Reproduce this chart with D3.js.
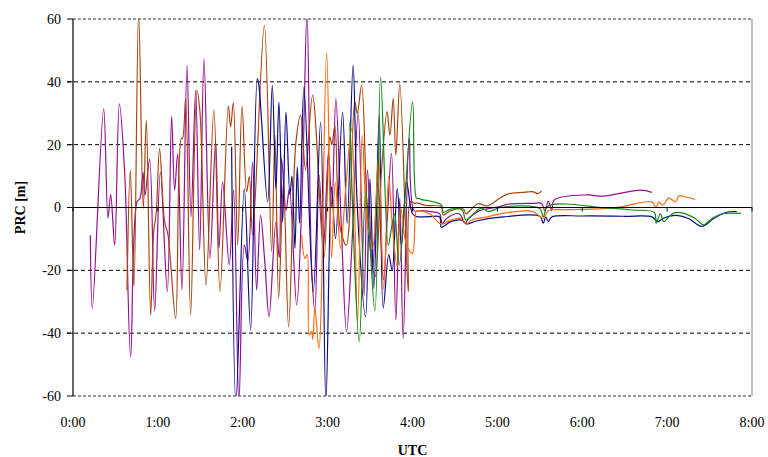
<!DOCTYPE html>
<html><head><meta charset="utf-8">
<script src="https://cdn.jsdelivr.net/npm/d3@7"></script>
<style>
body{margin:0;background:#fff;}
text{font-family:"Liberation Serif","Times New Roman",serif;}
</style></head>
<body><svg id="c" width="768" height="457"></svg>
<script>
// ---- data (time in hours UTC, PRC in metres) ----
const purpleT = [0.204,0.228,0.361,0.412,0.444,0.491,0.546,0.609,0.679,0.754,0.79,0.824,0.848,0.903,0.962,1.029,1.111,1.162,1.197,1.233,1.284,1.343,1.39,1.445,1.492,1.543,1.614,1.68,1.72,1.763,1.841,1.892,1.955,2.018,2.06,2.116,2.163,2.21,2.261,2.31,2.39,2.43,2.458,2.51,2.55,2.635,2.70,2.757,2.811,2.85,2.90,2.95,3.01,3.05,3.097,3.16,3.223,3.29,3.36,3.43,3.47,3.53,3.59,3.66,3.70,3.753,3.804,3.85,3.89,3.961,4.02,4.1,4.24,4.32,4.35,4.40,4.55,4.62,4.66,4.79,5.03,5.11,5.42,5.52,5.56,5.6,5.64,5.67,6.06,6.24,6.69,6.82];
const purpleV = [-8.8,-32,31.5,-3.3,4.2,-12,33,11,-47.5,1.8,2.9,11.3,3.9,15.3,-33,11.3,-26.8,29,5.5,17,-26.3,45.3,-3,37.3,-13.6,47.3,-16.2,20.9,-13,8.2,-18.3,5.5,-62,-12,-17,14.5,-26.3,-2.4,-17.8,-34.8,-4.6,-16,15.6,-1,6,-31,5,62,-19,-33,10.3,-13,17.7,0,34.7,-5,-39.6,-10,30.4,-28,12,-20,8,-23,-5,17.2,-35.8,3,-41.7,22,-1,-1,-1.4,-2,-5.1,-3.5,-2,-5,-3.5,-1,0.3,1,1.3,1.3,-1,2,-1,2.4,4,3.6,5.5,4.8];

const brownT = [0.636,0.675,0.718,0.773,0.828,0.864,0.915,0.95,0.98,1.02,1.08,1.12,1.209,1.276,1.29,1.327,1.386,1.46,1.496,1.567,1.66,1.732,1.83,1.857,1.889,1.94,1.991,2.046,2.077,2.116,2.254,2.34,2.38,2.423,2.48,2.54,2.627,2.682,2.74,2.823,2.957,3.027,3.05,3.086,3.145,3.22,3.32,3.35,3.40,3.478,3.56,3.63,3.70,3.734,3.773,3.804,3.851,3.949,3.977,4.028,4.05,4.15,4.34,4.36,4.45,4.6,4.63,4.77,4.88,5.03,5.11,5.3,5.42,5.48,5.52];
const brownV = [-26.3,11.9,-25,62,-0.3,27.8,-34.3,-8,-2,18.8,-4.6,-8.8,-35.3,22,22,34.7,-34.3,37.3,30.4,-24.7,31,-26.8,32.3,25.7,33.4,-12,32.3,5,9.8,-8.8,58,-14,23,-29,8,-38,20.9,29.4,12,35.7,-16,22.5,20,26,-6,-12,33.7,30,39,-6.7,-22,10,30.5,23,34.7,16.7,39.5,-26.8,1.8,1.3,1.5,0.7,0.2,-2.4,-1,-0.5,-2,1.2,0.5,3,4.2,4.8,5,4.4,5.3];

const navyT = [1.869,1.92,2.018,2.093,2.171,2.19,2.293,2.348,2.391,2.426,2.47,2.509,2.556,2.58,2.615,2.642,2.67,2.721,2.831,2.917,2.98,3.046,3.093,3.176,3.23,3.3,3.35,3.447,3.498,3.545,3.608,3.655,3.72,3.76,3.82,3.87,3.93,4.0,4.05,4.2,4.32,4.34,4.45,4.58,4.64,4.75,5.07,5.5,5.54,5.57,5.6,5.64,6.0,6.5,6.82,6.89,6.95,7.1,7.25,7.41,7.55,7.7,7.82];
const navyV = [19.3,-62,6,-39,41,38.9,1.8,38.9,6,33.6,-4.6,30.4,4,10,-13,12.9,-5,38.4,-26.8,27.2,-62,6.6,-9.9,30.4,-5,45.3,0,-34.8,9.2,-25.8,29.4,-32,-15,-20,6,-12,8,-2,-2.9,-2.9,-3,-6.3,-4.5,-4,-5.2,-4.3,-3,-2.8,-5,-3,-4.5,-3,-2.7,-2.8,-3,-4.5,-3.5,-2.5,-3.5,-6,-3.5,-1.5,-1.3];

const orangeT = [2.693,2.733,2.76,2.784,2.81,2.825,2.85,2.898,2.988,3.046,3.09,3.152,3.21,3.282,3.353,3.408,3.46,3.53,3.6,3.66,3.72,3.76,3.82,3.86,3.93,4.0,4.04,4.06,4.2,4.34,4.45,4.58,4.63,4.7,4.88,5.03,5.42,5.54,5.6,5.8,6.3,6.49,6.82,6.87,6.9,6.95,7.02,7.1,7.14,7.2,7.33];
const orangeV = [-8.8,-16.2,-15,-40.6,-39.5,-42,-32,-44.9,49.5,-16,8,-13,5,25,-36.4,23,-3,-13,16,-26,10,-5,-19,0,-12,-14.6,-1.4,-1,-2,-5.3,-4,-3.5,-5.3,-4,-3,-2,-1.3,-3.5,-1,-0.7,-0.3,0.4,1.8,0,1.8,0.8,3,1.8,3.7,3.5,2.6];

const greenT = [3.262,3.372,3.45,3.557,3.624,3.714,3.75,3.79,3.843,4.0,4.047,4.07,4.1,4.34,4.36,4.45,4.58,4.63,4.7,4.81,4.9,5.03,5.5,5.54,5.6,6.3,6.6,6.85,6.87,6.92,6.96,7.02,7.08,7.18,7.33,7.43,7.53,7.65,7.87];
const greenV = [27.2,-42.7,5,-33,41.6,-12,-7,-2,-18.3,33.6,2.9,2.9,2.6,0.8,-1.5,-0.5,-0.6,-4,-2.5,-0.2,-1.3,0,-0.3,-3,0.5,-0.2,-0.8,-1.6,-5,-2,-4.5,-3,-1.7,-1.7,-3.5,-5.5,-3.5,-2,-1.9];

const xTicks = [0,1,2,3,4,5,6,7,8];
const xTickLabels = ["0:00","1:00","2:00","3:00","4:00","5:00","6:00","7:00","8:00"];
const yTicks = [-60,-40,-20,0,20,40,60];

const series = [
  {t:purpleT, v:purpleV, color:"#93108f"},
  {t:brownT,  v:brownV,  color:"#a8460f"},
  {t:navyT,   v:navyV,   color:"#0c0c86"},
  {t:orangeT, v:orangeV, color:"#ff6a10"},
  {t:greenT,  v:greenV,  color:"#138a13"}
];

// ---- drawing ----
const svg = d3.select("#c");
const L=73, R=752, T=19, B=396;
const x = d3.scaleLinear().domain([0,8]).range([L,R]);
const y = d3.scaleLinear().domain([-60,60]).range([B,T]);

svg.append("defs").append("clipPath").attr("id","clip")
  .append("rect").attr("x",L).attr("y",T).attr("width",R-L).attr("height",B-T);

// grid lines
yTicks.forEach(v=>{
  if (v===0) return;
  const edge = Math.abs(v)===60;
  svg.append("line").attr("x1",edge?L:L-6).attr("x2",R).attr("y1",y(v)).attr("y2",y(v))
    .attr("stroke",edge?"#999":"#000").attr("stroke-width",edge?2:1)
    .attr("stroke-dasharray",edge?"3,2":"4,3");
});
// right border
svg.append("line").attr("x1",R).attr("x2",R).attr("y1",T).attr("y2",B)
  .attr("stroke","#aaa").attr("stroke-width",1.5);

// series
const line = d3.line().x(d=>x(d[0])).y(d=>y(d[1])).curve(d3.curveCatmullRom.alpha(0.5));
const g = svg.append("g").attr("clip-path","url(#clip)");
series.forEach(s=>{
  const pts = s.t.map((t,i)=>[t,s.v[i]]);
  g.append("path").attr("d",line(pts)).attr("fill","none")
    .attr("stroke",s.color).attr("stroke-width",1.2).attr("stroke-linejoin","round");
});

// zero line + x ticks
svg.append("line").attr("x1",L-6).attr("x2",R).attr("y1",y(0)).attr("y2",y(0))
  .attr("stroke","#000").attr("stroke-width",1.2);
xTicks.forEach(h=>{
  svg.append("line").attr("x1",x(h)).attr("x2",x(h)).attr("y1",y(0)).attr("y2",y(0)+4)
    .attr("stroke","#000").attr("stroke-width",1);
});
// y axis line
svg.append("line").attr("x1",L).attr("x2",L).attr("y1",T).attr("y2",B)
  .attr("stroke","#000").attr("stroke-width",1.2);
yTicks.forEach(v=>{
  svg.append("line").attr("x1",L-6).attr("x2",L).attr("y1",y(v)).attr("y2",y(v))
    .attr("stroke","#000").attr("stroke-width",1);
  svg.append("text").attr("x",L-12).attr("y",y(v)).attr("dy","0.35em")
    .attr("text-anchor","end").attr("font-size",14).text(v);
});
// x labels
xTicks.forEach((h,i)=>{
  svg.append("text").attr("x",x(h)).attr("y",422).attr("dy","0.35em")
    .attr("text-anchor","middle").attr("font-size",14).text(xTickLabels[i]);
});
svg.append("text").attr("x",(L+R)/2).attr("y",450).attr("dy","0.35em")
  .attr("text-anchor","middle").attr("font-size",14).attr("font-weight","bold").text("UTC");
svg.append("text").attr("transform",`translate(20,${y(0)}) rotate(-90)`).attr("dy","0.35em")
  .attr("text-anchor","middle").attr("font-size",14).attr("font-weight","bold").text("PRC [m]");
</script></body></html>
